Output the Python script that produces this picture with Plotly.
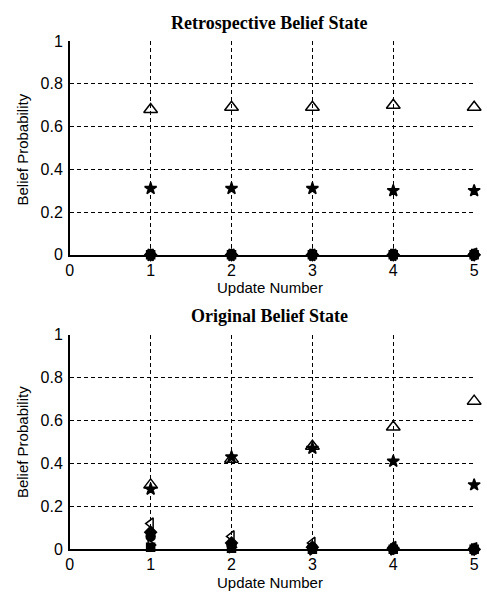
import plotly.graph_objects as go

updates = [1, 2, 3, 4, 5]

# Retrospective belief state (top panel)
retro_tri = [0.68, 0.69, 0.69, 0.70, 0.69]
retro_star = [0.31, 0.31, 0.31, 0.30, 0.30]
retro_ltri = [0.0, 0.0, 0.0, 0.0, 0.005]
retro_diam = [0.0, 0.0, 0.0, 0.0, 0.0]
retro_circ = [0.0, 0.0, 0.0, 0.0, 0.0]
retro_rtri = [0.0, 0.0, 0.0, 0.0, 0.0]
retro_sq = [0.0, 0.0, 0.0, 0.0, 0.0]

# Original belief state (bottom panel)
orig_tri = [0.30, 0.42, 0.48, 0.57, 0.69]
orig_star = [0.28, 0.43, 0.47, 0.41, 0.30]
orig_ltri = [0.12, 0.06, 0.03, 0.01, 0.005]
orig_diam = [0.08, 0.03, 0.01, 0.005, 0.0]
orig_circ = [0.06, 0.02, 0.01, 0.0, 0.0]
orig_rtri = [0.02, 0.01, 0.0, 0.0, 0.0]
orig_sq = [0.01, 0.005, 0.0, 0.0, 0.0]

x_ticks = [0, 1, 2, 3, 4, 5]
y_ticks = [0, 0.2, 0.4, 0.6, 0.8, 1]
y_ticklabels = ["0", "0.2", "0.4", "0.6", "0.8", "1"]

styles = [
    ("triangle-up-open", 12, "black"),
    ("star", 9, "black"),
    ("triangle-left-open", 10, "black"),
    ("diamond", 9, "black"),
    ("circle", 9, "black"),
    ("triangle-right-open", 10, "black"),
    ("square", 8, "black"),
]

fig = go.Figure()
panels = [
    ([retro_tri, retro_star, retro_ltri, retro_diam, retro_circ, retro_rtri, retro_sq], "x", "y"),
    ([orig_tri, orig_star, orig_ltri, orig_diam, orig_circ, orig_rtri, orig_sq], "x2", "y2"),
]
for series, xa, ya in panels:
    for vals, (sym, sz, col) in zip(series, styles):
        fig.add_trace(go.Scatter(
            x=updates, y=vals, mode="markers", xaxis=xa, yaxis=ya,
            marker=dict(symbol=sym, size=sz, color=col, line=dict(color="black", width=1.5)),
            cliponaxis=False, showlegend=False, hoverinfo="skip",
        ))

tickfont = dict(family="Liberation Sans, Arial", size=16, color="black")
axis_common = dict(
    showgrid=True, gridcolor="black", gridwidth=1, griddash="4px,3px",
    showline=True, linecolor="black", linewidth=1.5, mirror=False,
    zeroline=False, ticks="", tickfont=tickfont,
)

x0, x1 = 67 / 487, 479 / 487
fig.update_layout(
    width=487, height=605,
    margin=dict(l=0, r=0, t=0, b=0),
    paper_bgcolor="white", plot_bgcolor="white",
    xaxis=dict(domain=[x0, x1], range=[0, 5], tickvals=x_ticks, anchor="y", **axis_common),
    yaxis=dict(domain=[1 - 254 / 605, 1 - 34 / 605], range=[0, 1], tickvals=y_ticks,
               ticktext=y_ticklabels, anchor="x", ticklabelstandoff=2, **axis_common),
    xaxis2=dict(domain=[x0, x1], range=[0, 5], tickvals=x_ticks, anchor="y2", **axis_common),
    yaxis2=dict(domain=[1 - 557 / 605, 1 - 336 / 605], range=[0, 1], tickvals=y_ticks,
                ticktext=y_ticklabels, anchor="x2", ticklabelstandoff=2, **axis_common),
)

def ann(text, x, y, font, angle=0):
    fig.add_annotation(text=text, x=x / 487, y=1 - y / 605, xref="paper", yref="paper",
                       showarrow=False, font=font, textangle=angle,
                       xanchor="center", yanchor="middle")

title_font = dict(family="Liberation Serif, Times New Roman", size=18, color="black")
label_font = dict(family="Liberation Sans, Arial", size=15, color="black")
ann("<b>Retrospective Belief State</b>", 271, 15, title_font)
ann("<b>Original Belief State</b>", 271, 317, title_font)
ann("Update Number", 271, 288, label_font)
ann("Update Number", 271, 591, label_font)
ann("Belief Probability", 19, 146, label_font, -90)
ann("Belief Probability", 19, 447, label_font, -90)

fig.write_html("out.html")
